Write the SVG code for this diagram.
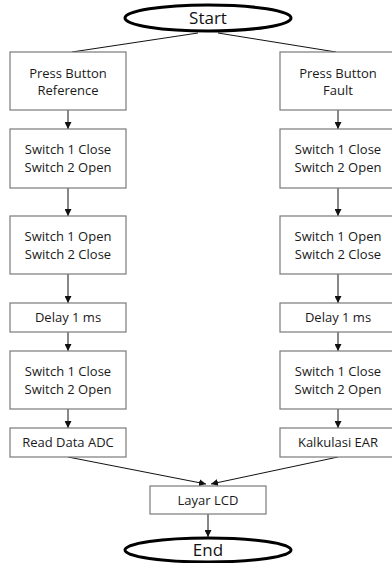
<svg xmlns="http://www.w3.org/2000/svg" width="392" height="563" viewBox="0 0 392 563">
<style>
.box{fill:#fff;stroke:#7a7a7a;stroke-width:1.2}
.term{fill:#fff;stroke:#000;stroke-width:3}
.t{font-family:"Open Sans","Liberation Sans",sans-serif;font-size:13px;fill:#1a1a1a;text-anchor:middle}
.tt{font-family:"Open Sans","Liberation Sans",sans-serif;font-size:17px;fill:#111;text-anchor:middle}
.c{stroke:#111;stroke-width:1;fill:none}
</style>
<defs>
<marker id="ah" viewBox="0 0 8 8" refX="8" refY="4" markerWidth="7" markerHeight="7" markerUnits="userSpaceOnUse" orient="auto">
<path d="M0,0 L8,4 L0,8 z" fill="#111"/>
</marker>
</defs>
<rect width="392" height="563" fill="#fff"/>
<g id="connectors">
<path class="c" d="M198,33 L72,52"/>
<path class="c" d="M218,33 L336,52"/>
<path class="c" d="M68,110 V129" marker-end="url(#ah)"/>
<path class="c" d="M68,188 V216" marker-end="url(#ah)"/>
<path class="c" d="M68,274 V303" marker-end="url(#ah)"/>
<path class="c" d="M68,332 V351" marker-end="url(#ah)"/>
<path class="c" d="M68,409 V428" marker-end="url(#ah)"/>
<path class="c" d="M338,110 V129" marker-end="url(#ah)"/>
<path class="c" d="M338,188 V216" marker-end="url(#ah)"/>
<path class="c" d="M338,274 V303" marker-end="url(#ah)"/>
<path class="c" d="M338,332 V351" marker-end="url(#ah)"/>
<path class="c" d="M338,409 V428" marker-end="url(#ah)"/>
<path class="c" d="M68,457 L206,484" marker-end="url(#ah)"/>
<path class="c" d="M338,457 L211,484" marker-end="url(#ah)"/>
<path class="c" d="M208,514 V537" marker-end="url(#ah)"/>
</g>
<g id="start"><ellipse class="term" cx="208" cy="18" rx="83" ry="13"/><text class="tt" x="208" y="24">Start</text></g>
<g id="l1"><rect class="box" x="10" y="52" width="116" height="58"/><text class="t" x="68" y="78">Press Button</text><text class="t" x="68" y="95">Reference</text></g>
<g id="l2"><rect class="box" x="10" y="129" width="116" height="59"/><text class="t" x="68" y="154">Switch 1 Close</text><text class="t" x="68" y="172">Switch 2 Open</text></g>
<g id="l3"><rect class="box" x="10" y="216" width="116" height="58"/><text class="t" x="68" y="241">Switch 1 Open</text><text class="t" x="68" y="259">Switch 2 Close</text></g>
<g id="l4"><rect class="box" x="10" y="303" width="116" height="29"/><text class="t" x="68" y="322">Delay 1 ms</text></g>
<g id="l5"><rect class="box" x="10" y="351" width="116" height="58"/><text class="t" x="68" y="376">Switch 1 Close</text><text class="t" x="68" y="394">Switch 2 Open</text></g>
<g id="l6"><rect class="box" x="10" y="428" width="116" height="29"/><text class="t" x="68" y="447">Read Data ADC</text></g>
<g id="r1"><rect class="box" x="280" y="52" width="116" height="58"/><text class="t" x="338" y="78">Press Button</text><text class="t" x="338" y="95">Fault</text></g>
<g id="r2"><rect class="box" x="280" y="129" width="116" height="59"/><text class="t" x="338" y="154">Switch 1 Close</text><text class="t" x="338" y="172">Switch 2 Open</text></g>
<g id="r3"><rect class="box" x="280" y="216" width="116" height="58"/><text class="t" x="338" y="241">Switch 1 Open</text><text class="t" x="338" y="259">Switch 2 Close</text></g>
<g id="r4"><rect class="box" x="280" y="303" width="116" height="29"/><text class="t" x="338" y="322">Delay 1 ms</text></g>
<g id="r5"><rect class="box" x="280" y="351" width="116" height="58"/><text class="t" x="338" y="376">Switch 1 Close</text><text class="t" x="338" y="394">Switch 2 Open</text></g>
<g id="r6"><rect class="box" x="280" y="428" width="116" height="29"/><text class="t" x="338" y="447">Kalkulasi EAR</text></g>
<g id="lcd"><rect class="box" x="150" y="486" width="116" height="28"/><text class="t" x="208" y="505">Layar LCD</text></g>
<g id="end"><ellipse class="term" cx="208" cy="550" rx="83" ry="12"/><text class="tt" x="208" y="556">End</text></g>
</svg>
